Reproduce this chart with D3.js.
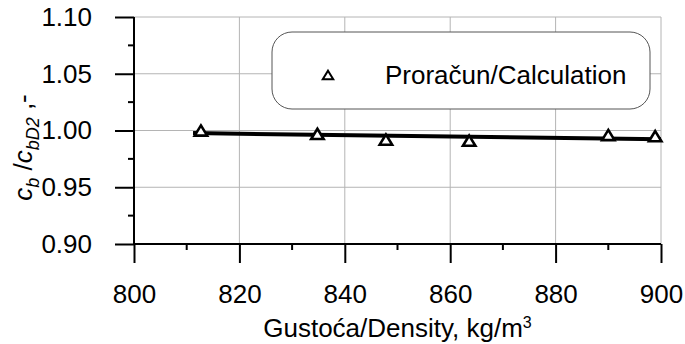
<!DOCTYPE html>
<html>
<head>
<meta charset="utf-8">
<script src="https://cdn.jsdelivr.net/npm/d3@7"></script>
<style>
  body { margin: 0; background: #fff; }
  text { font-family: Arial, "Liberation Sans", sans-serif; }
</style>
</head>
<body>
<div id="chart"></div>
<script>
// data
const density = [812.7, 834.8, 847.8, 863.6, 890.0, 898.9];
const ratio = [1.000, 0.997, 0.992, 0.991, 0.996, 0.995];
// fitted line as drawn in the reference (end points)
const trendX = [811.2, 900];
const trendY = [0.9977, 0.9922];
const xTicks = [800, 820, 840, 860, 880, 900];
const xMinor = [810, 830, 850, 870, 890];
const yTicks = [0.90, 0.95, 1.00, 1.05, 1.10];
const yMinor = [0.925, 0.975, 1.025, 1.075];
const legendLabel = "Proračun/Calculation";

const width = 685, height = 344;
const margin = { left: 134, right: 24, top: 17, bottom: 100 };
const fontSize = 26;

// triangle marker centred on its bounding box (like the spreadsheet markers)
const boxTriangle = {
  draw(ctx, size) {
    const w = Math.sqrt(size), h = w * 0.82;
    ctx.moveTo(0, -h / 2);
    ctx.lineTo(w / 2, h / 2);
    ctx.lineTo(-w / 2, h / 2);
    ctx.closePath();
  }
};

const svg = d3.select("#chart").append("svg")
  .attr("width", width)
  .attr("height", height);

const x = d3.scaleLinear().domain([800, 900]).range([margin.left, width - margin.right]);
const y = d3.scaleLinear().domain([0.90, 1.10]).range([height - margin.bottom, margin.top]);

// grid
const grid = svg.append("g").attr("id", "grid");
grid.selectAll(".gx")
  .data(xTicks.slice(1))
  .enter().append("line")
  .attr("x1", d => x(d)).attr("x2", d => x(d))
  .attr("y1", y(0.90)).attr("y2", y(1.10))
  .attr("stroke", "#b4b4b4").attr("stroke-width", 1);
grid.selectAll(".gy")
  .data(yTicks.slice(1))
  .enter().append("line")
  .attr("x1", x(800)).attr("x2", x(900))
  .attr("y1", d => y(d)).attr("y2", d => y(d))
  .attr("stroke", "#b4b4b4").attr("stroke-width", 1);

// legend box (drawn under the data)
const leg = svg.append("g").attr("id", "legend");
leg.append("rect")
  .attr("x", 272).attr("y", 32)
  .attr("width", 378).attr("height", 77)
  .attr("rx", 20).attr("ry", 20)
  .attr("fill", "#fff")
  .attr("stroke", "#555").attr("stroke-width", 1);
leg.append("path")
  .attr("transform", "translate(328,75)")
  .attr("d", d3.symbol(boxTriangle, 110)())
  .attr("fill", "none").attr("stroke", "#000").attr("stroke-width", 2);
leg.append("text")
  .attr("x", 385).attr("y", 84)
  .attr("font-size", fontSize)
  .text(legendLabel);

// axes
const xAxis = d3.axisBottom(x).tickValues(xTicks).tickSize(19).tickPadding(22)
  .tickFormat(d3.format("d"));
const yAxis = d3.axisLeft(y).tickValues(yTicks).tickSize(19).tickPadding(23)
  .tickFormat(d3.format(".2f"));

const gx = svg.append("g")
  .attr("transform", `translate(0,${y(0.90)})`)
  .call(xAxis);
const gy = svg.append("g")
  .attr("transform", `translate(${x(800)},0)`)
  .call(yAxis);

[gx, gy].forEach(g => {
  g.select(".domain").attr("stroke", "#000").attr("stroke-width", 2);
  g.selectAll(".tick line").attr("stroke", "#000").attr("stroke-width", 2);
  g.selectAll(".tick text").attr("font-size", fontSize).attr("fill", "#000")
    .attr("font-family", "Arial, 'Liberation Sans', sans-serif");
});
gx.select(".domain").attr("d", `M${x(800)},0H${x(900)}`);
gy.select(".domain").attr("d", `M0,${y(0.90)}V${y(1.10)}`);

// minor ticks
svg.append("g").selectAll("line")
  .data(xMinor)
  .enter().append("line")
  .attr("x1", d => x(d)).attr("x2", d => x(d))
  .attr("y1", y(0.90)).attr("y2", y(0.90) + 6)
  .attr("stroke", "#000").attr("stroke-width", 2);
svg.append("g").selectAll("line")
  .data(yMinor)
  .enter().append("line")
  .attr("x1", x(800) - 6).attr("x2", x(800))
  .attr("y1", d => y(d)).attr("y2", d => y(d))
  .attr("stroke", "#000").attr("stroke-width", 2);

// trend line
svg.append("path")
  .datum(d3.zip(trendX, trendY))
  .attr("fill", "none")
  .attr("stroke", "#000")
  .attr("stroke-width", 4)
  .attr("d", d3.line().x(d => x(d[0])).y(d => y(d[1])));

// points
svg.append("g").selectAll("path")
  .data(d3.zip(density, ratio))
  .enter().append("path")
  .attr("transform", d => `translate(${x(d[0])},${y(d[1])})`)
  .attr("d", d3.symbol(boxTriangle, 155)())
  .attr("fill", "#fff")
  .attr("stroke", "#000")
  .attr("stroke-width", 2.6);

// axis titles
const xt = svg.append("text")
  .attr("x", (x(800) + x(900)) / 2)
  .attr("y", 337)
  .attr("text-anchor", "middle")
  .attr("font-size", fontSize);
xt.append("tspan").text("Gustoća/Density, kg/m");
xt.append("tspan").attr("font-size", 16).attr("dy", -9).text("3");

const yt = svg.append("text")
  .attr("transform", `translate(32,${y(0.985)}) rotate(-90)`)
  .attr("text-anchor", "middle")
  .attr("font-size", fontSize);
yt.append("tspan").attr("font-style", "italic").text("c");
yt.append("tspan").attr("font-style", "italic").attr("font-size", 18).attr("dy", 7).text("b");
yt.append("tspan").attr("dy", -7).text(" /");
yt.append("tspan").attr("font-style", "italic").text("c");
yt.append("tspan").attr("font-style", "italic").attr("font-size", 18).attr("dy", 7).text("bD2");
yt.append("tspan").attr("dy", -7).text(" ,-");
</script>
</body>
</html>
